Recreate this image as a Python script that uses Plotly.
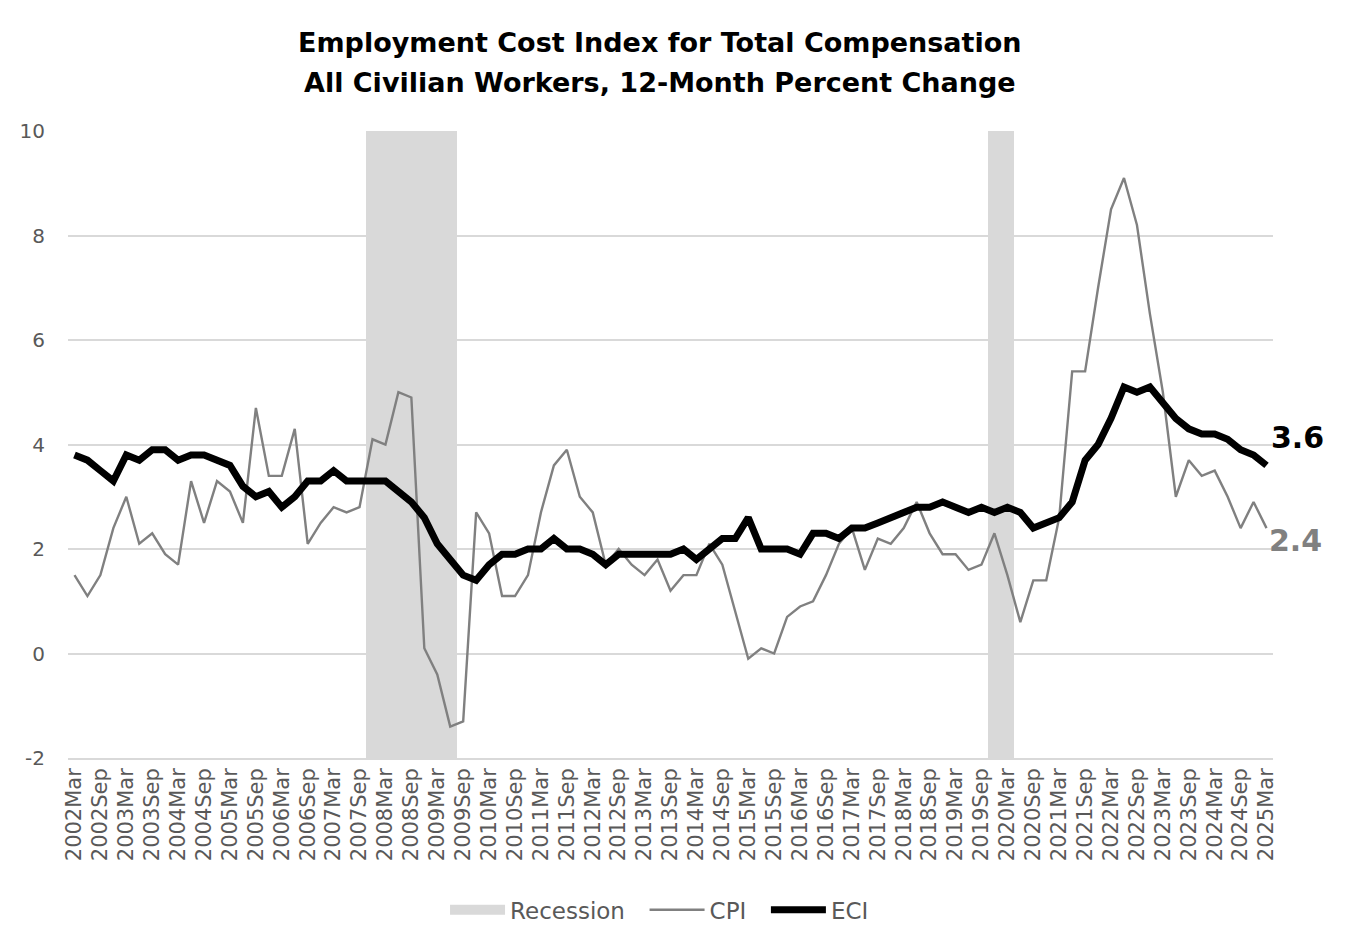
import plotly.graph_objects as go

# quarterly dates, 2002Mar .. 2025Mar
quarters = []
for yr in range(2002, 2026):
    for m in ["Mar", "Jun", "Sep", "Dec"]:
        quarters.append(f"{yr}{m}")
quarters = quarters[:93]

# ECI total compensation, civilian workers, 12-month % change
eci = [3.8, 3.7, 3.5, 3.3, 3.8, 3.7, 3.9, 3.9, 3.7, 3.8, 3.8, 3.7, 3.6,
       3.2, 3.0, 3.1, 2.8, 3.0, 3.3, 3.3, 3.5, 3.3, 3.3, 3.3, 3.3,
       3.1, 2.9, 2.6, 2.1, 1.8, 1.5, 1.4,
       1.7, 1.9, 1.9, 2.0, 2.0, 2.2, 2.0, 2.0, 1.9, 1.7, 1.9, 1.9, 1.9, 1.9, 1.9, 2.0, 1.8,
       2.0, 2.2, 2.2, 2.6, 2.0, 2.0, 2.0, 1.9,
       2.3, 2.3, 2.2, 2.4, 2.4, 2.5, 2.6, 2.7, 2.8, 2.8, 2.9, 2.8,
       2.7, 2.8, 2.7, 2.8, 2.7, 2.4, 2.5, 2.6, 2.9, 3.7, 4.0,
       4.5, 5.1, 5.0, 5.1, 4.8, 4.5, 4.3, 4.2, 4.2, 4.1, 3.9, 3.8, 3.6]

# CPI 12-month % change
cpi = [1.5, 1.1, 1.5, 2.4, 3.0, 2.1, 2.3, 1.9, 1.7, 3.3, 2.5, 3.3, 3.1,
       2.5, 4.7, 3.4, 3.4, 4.3, 2.1, 2.5, 2.8, 2.7, 2.8, 4.1, 4.0,
       5.0, 4.9, 0.1, -0.4, -1.4, -1.3, 2.7,
       2.3, 1.1, 1.1, 1.5, 2.7, 3.6, 3.9, 3.0, 2.7, 1.7, 2.0, 1.7, 1.5, 1.8, 1.2, 1.5, 1.5,
       2.1, 1.7, 0.8, -0.1, 0.1, 0.0, 0.7, 0.9,
       1.0, 1.5, 2.1, 2.4, 1.6, 2.2, 2.1, 2.4, 2.9, 2.3, 1.9, 1.9,
       1.6, 1.7, 2.3, 1.5, 0.6, 1.4, 1.4, 2.6, 5.4, 5.4, 7.0,
       8.5, 9.1, 8.2, 6.5, 5.0, 3.0, 3.7, 3.4, 3.5, 3.0, 2.4, 2.9, 2.4]

# recession quarters
recession_quarters = ["2007Dec", "2008Mar", "2008Jun", "2008Sep", "2008Dec",
                      "2009Mar", "2009Jun", "2019Dec", "2020Mar"]
recession = [12 if q in recession_quarters else 0 for q in quarters]

y_ticks = [-2, 0, 2, 4, 6, 8, 10]

font = "DejaVu Sans, sans-serif"
gray_txt = "#595959"
pad = "\u00a0\u00a0"  # extra room between legend items

fig = go.Figure()
fig.add_trace(go.Bar(x=quarters, y=recession, base=-2, name="Recession",
                     marker_color="#d9d9d9", marker_line_width=0, width=1,
                     showlegend=False, legendgroup="rec"))
# wide grey swatch for the legend entry
fig.add_trace(go.Scatter(x=[None], y=[None], name="Recession" + pad, mode="lines",
                         line=dict(color="#d9d9d9", width=14), legendgroup="rec"))
fig.add_trace(go.Scatter(x=quarters, y=cpi, name="CPI" + pad, mode="lines",
                         line=dict(color="#808080", width=2.4)))
fig.add_trace(go.Scatter(x=quarters, y=eci, name="ECI", mode="lines",
                         line=dict(color="#000000", width=7)))

# end labels
fig.add_annotation(x=quarters[-1], y=eci[-1], text="<b>3.6</b>", showarrow=False,
                   xanchor="left", xshift=2, yshift=28,
                   font=dict(size=30, color="#000000", family=font))
fig.add_annotation(x=quarters[-1], y=cpi[-1], text="<b>2.4</b>", showarrow=False,
                   xanchor="left", xshift=0, yshift=-12,
                   font=dict(size=30, color="#808080", family=font))

# two-line title
fig.add_annotation(text="<b>Employment Cost Index for Total Compensation</b>",
                   xref="paper", yref="paper", x=0.4909, y=1.1404, showarrow=False,
                   xanchor="center", yanchor="middle",
                   font=dict(family=font, size=27, color="#000000"))
fig.add_annotation(text="<b>All Civilian Workers, 12-Month Percent Change</b>",
                   xref="paper", yref="paper", x=0.4909, y=1.0766, showarrow=False,
                   xanchor="center", yanchor="middle",
                   font=dict(family=font, size=27, color="#000000"))

fig.update_layout(
    width=1360, height=952,
    margin=dict(l=56, r=95, t=123, b=202),
    paper_bgcolor="white", plot_bgcolor="white",
    bargap=0,
    showlegend=True,
    legend=dict(orientation="h", x=0.4909, xanchor="center", y=-0.242, yanchor="middle",
                font=dict(family=font, size=23, color=gray_txt), traceorder="normal",
                itemwidth=55),
    font=dict(family=font, color=gray_txt),
)
fig.update_xaxes(type="category", range=[-0.5, 92.5], tickangle=-90,
                 tickvals=quarters[::2], ticktext=quarters[::2],
                 tickfont=dict(family=font, size=21, color=gray_txt),
                 showgrid=False, showline=True, linecolor="#d9d9d9", linewidth=1.5,
                 ticks="")
fig.update_yaxes(range=[-2, 10], tickvals=y_ticks, ticktext=[str(v) for v in y_ticks],
                 showgrid=True, gridcolor="#d9d9d9", gridwidth=1.5,
                 zeroline=False, tickfont=dict(family=font, size=20, color=gray_txt),
                 ticklabelstandoff=22)

fig.write_html("out.html")
